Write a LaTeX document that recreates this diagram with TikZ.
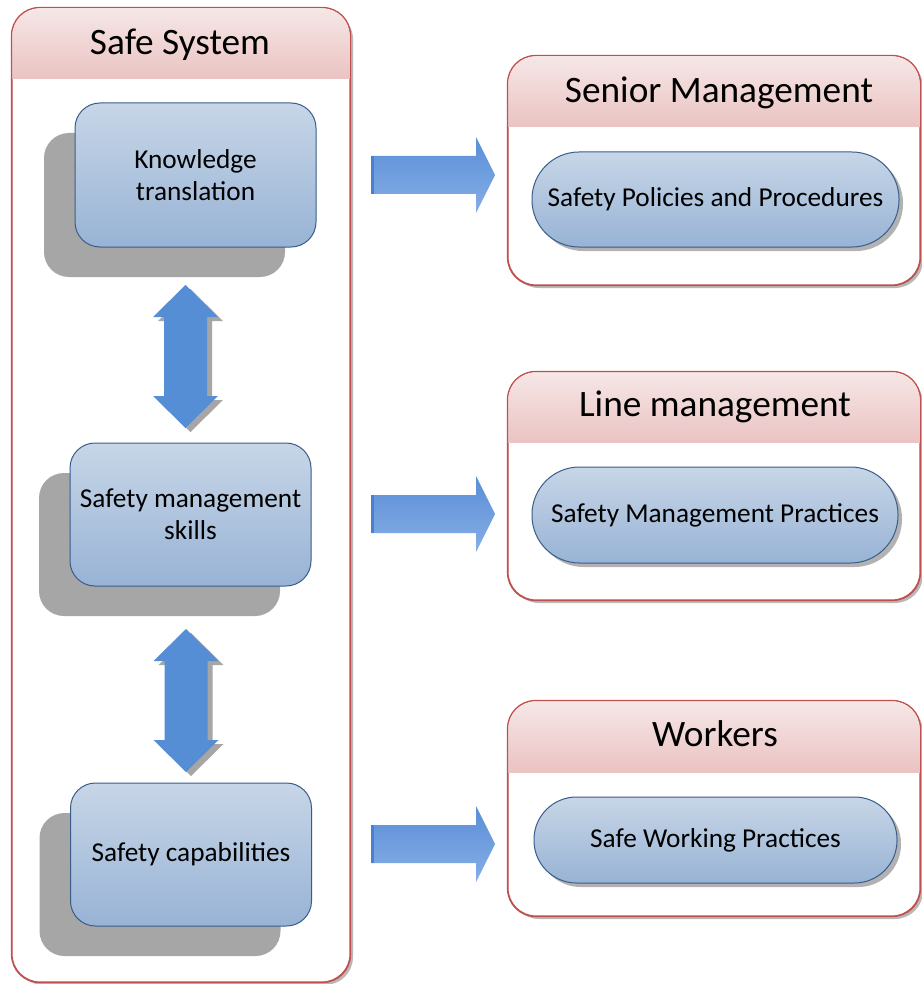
\documentclass[tikz,border=0pt]{standalone}
\usepackage{fontspec}
\setmainfont{Carlito}
\usetikzlibrary{shadows}
\definecolor{hdrtop}{RGB}{246,231,231}
\definecolor{hdrbot}{RGB}{234,195,194}
\definecolor{cborder}{RGB}{192,80,77}
\definecolor{btop}{RGB}{199,214,231}
\definecolor{bbot}{RGB}{152,179,213}
\definecolor{bborder}{RGB}{56,93,138}
\definecolor{shgray}{RGB}{166,166,166}
\definecolor{arrblue}{RGB}{85,142,213}
\definecolor{ratop}{RGB}{90,142,215}
\definecolor{rabot}{RGB}{134,174,230}
\definecolor{rastrip}{RGB}{74,128,205}
\begin{document}
\begin{tikzpicture}[x=1pt,y=-1pt,
  container/.style={draw=cborder, line width=1.1pt, fill=white, rounded corners=28pt, inner sep=0pt,
    drop shadow={shadow xshift=3pt, shadow yshift=-3pt, fill=black, opacity=.28}},
  hdr/.style={top color=hdrtop, bottom color=hdrbot, draw=none},
  titletext/.style={font=\fontsize{37.3}{44}\selectfont, anchor=base, inner sep=0pt},
  skillbox/.style={draw=bborder, line width=1pt, top color=btop, bottom color=bbot, rounded corners=25pt,
    minimum width=241pt, minimum height=143pt, align=center, inner sep=0pt,
    font=\fontsize{27.3}{32}\selectfont,
    general shadow={fill=shgray, shadow xshift=-31pt, shadow yshift=-30pt}},
  pill/.style={draw=bborder, line width=1pt, top color=btop, bottom color=bbot, inner sep=0pt,
    font=\fontsize{27.3}{32}\selectfont,
    drop shadow={shadow xshift=4pt, shadow yshift=-4pt, fill=black, opacity=.3}},
  dblarr/.pic={
    \fill[shgray] (5,4) -- (37.5,36) -- (26.5,36) -- (26.5,#1-28) -- (37.5,#1-28) -- (5,#1+4)
      -- (-27.5,#1-28) -- (-16.5,#1-28) -- (-16.5,36) -- (-27.5,36) -- cycle;
    \fill[arrblue] (0,0) -- (32.5,32) -- (21.5,32) -- (21.5,#1-32) -- (32.5,#1-32) -- (0,#1)
      -- (-32.5,#1-32) -- (-21.5,#1-32) -- (-21.5,32) -- (-32.5,32) -- cycle;
  },
  rarrow/.pic={
    \shade[top color=ratop, bottom color=rabot] (0,-19) -- (105,-19) -- (105,-38) -- (124,0)
      -- (105,38) -- (105,19) -- (0,19) -- cycle;
    \fill[rastrip] (0,-19) rectangle (3,19);
  }
  ]
\useasboundingbox (0,0) rectangle (921,984);
\fill[white] (0,0) rectangle (921,984);

% ---------- Safe System container ----------
\node[container, minimum width=338pt, minimum height=974pt] (ss) at (181,495) {};
\begin{scope}
  \clip[rounded corners=28pt] (12,8) rectangle (350,982);
  \shade[hdr] (12,8) rectangle (350,79);
\end{scope}
\draw[cborder, line width=1.1pt, rounded corners=28pt] (ss.north west) rectangle (ss.south east);
\node[titletext] (sst) at (180,54.3) {Safe System};

% ---------- right containers ----------
\node[container, minimum width=412pt, minimum height=229pt] (sm) at (714,170.5) {};
\begin{scope}
  \clip[rounded corners=28pt] (508,56) rectangle (920,285);
  \shade[hdr] (508,56) rectangle (920,127);
\end{scope}
\draw[cborder, line width=1.1pt, rounded corners=28pt] (sm.north west) rectangle (sm.south east);
\node[titletext] (smt) at (719,102.7) {Senior Management};

\node[container, minimum width=412pt, minimum height=228pt] (lm) at (714,486) {};
\begin{scope}
  \clip[rounded corners=28pt] (508,372) rectangle (920,600);
  \shade[hdr] (508,372) rectangle (920,442);
\end{scope}
\draw[cborder, line width=1.1pt, rounded corners=28pt] (lm.north west) rectangle (lm.south east);
\node[titletext] (lmt) at (715,416.7) {Line management};

\node[container, minimum width=412pt, minimum height=215pt] (wk) at (714,808.5) {};
\begin{scope}
  \clip[rounded corners=28pt] (508,701) rectangle (920,916);
  \shade[hdr] (508,701) rectangle (920,772);
\end{scope}
\draw[cborder, line width=1.1pt, rounded corners=28pt] (wk.north west) rectangle (wk.south east);
\node[titletext] (wkt) at (715,746.7) {Workers};

% ---------- left boxes ----------
\node[skillbox, minimum height=144pt] (kt) at (195.5,175) {Knowledge\\translation};
\node[skillbox] (sms) at (190.5,514.5) {Safety management\\skills};
\node[skillbox] (sc) at (191,854.5) {Safety capabilities};

% ---------- pills ----------
\node[pill, minimum width=367pt, minimum height=95pt, rounded corners=47pt] (spp) at (715.5,199.5) {Safety Policies and Procedures};
\node[pill, minimum width=366pt, minimum height=96pt, rounded corners=47.5pt] (smp) at (715,515) {Safety Management Practices};
\node[pill, minimum width=363pt, minimum height=86pt, rounded corners=42.5pt] (swp) at (715.5,840) {Safe Working Practices};

% ---------- double arrows ----------
\pic at (185.5,285) {dblarr=143};
\pic at (186,629) {dblarr=143};

% ---------- right arrows ----------
\pic at (371,175) {rarrow};
\pic at (371,514) {rarrow};
\pic at (371,844) {rarrow};
\end{tikzpicture}
\end{document}
